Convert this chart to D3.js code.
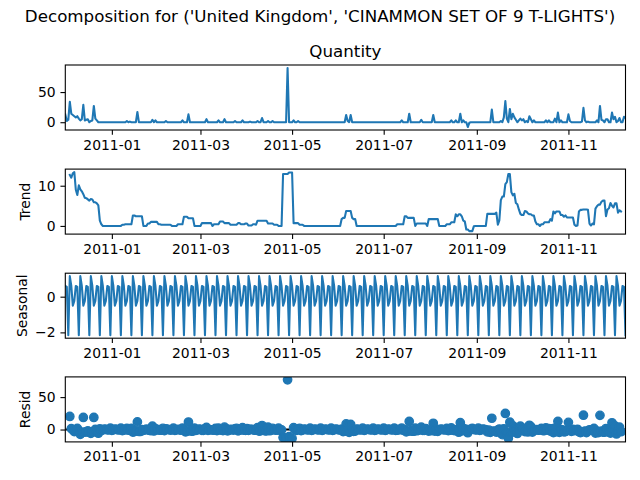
<!DOCTYPE html>
<meta charset="utf-8">
<style>
  body { margin: 0; background: #fff; }
  svg { display: block; font-family: "DejaVu Sans", sans-serif; }
  .tick text { font-size: 13.9px; fill: #000; }
  .tick line { stroke: #000; stroke-width: 1.1; }
</style>
<body>
<svg></svg>
<script src="https://cdn.jsdelivr.net/npm/d3@7"></script>
<script>
  // daily series, 2010-12-01 .. 2011-12-09, one row per week (7 days)
  var startDay = "2010-12-01", endDay = "2011-12-09";

  var observed = [
    [13,2,4,34,14,12,10],[8,10,6,3,5,29,3],[4,5,0,2,3,27,6],[3,0,0,0,0,0,0],
    [0,0,0,0,0,0,0],[0,0,0,0,0,0,2],[0,1,0,0,0,0,17],[0,0,0,0,0,0,0],
    [0,0,4,0,3,0,0],[0,0,0,0,2,0,0],[0,0,0,0,0,0,0],[0,3,0,0,0,13,0],
    [0,0,0,0,0,0,0],[0,0,0,5,0,0,0],[0,0,0,0,3,0,0],[0,5,0,0,0,0,0],
    [0,2,0,0,0,0,3],[0,0,0,0,1,0,0],[0,0,2,0,0,7,0],[0,0,2,0,0,2,0],
    [0,0,0,0,0,0,0],[0,90,0,0,0,3,0],[0,2,0,0,0,0,0],[0,0,0,0,0,0,0],
    [0,0,0,0,0,0,0],[0,0,0,0,0,0,0],[0,0,0,0,0,12,2],[0,12,0,0,0,0,0],
    [0,0,0,0,0,0,0],[0,0,0,0,0,0,0],[0,0,0,0,0,0,0],[0,0,0,0,0,0,0],
    [3,0,0,0,0,14,0],[0,0,0,0,0,0,4],[0,0,0,0,0,0,0],[12,0,0,0,0,0,0],
    [0,0,0,0,0,3,0],[0,3,0,0,14,0,3],[0,0,-8,-1,0,0,0],[0,0,0,0,0,0,0],
    [0,0,0,0,21,0,0],[0,0,0,2,0,8,35],[6,0,22,5,14,8,4],[0,3,6,3,5,0,2],
    [0,10,5,0,3,0,0],[0,0,0,0,0,3,0],[3,0,0,0,6,0,16],[0,3,0,0,0,0,13],
    [2,0,0,0,0,0,0],[0,1,24,3,0,1,0],[0,0,0,0,3,0,27],[4,3,0,5,5,0,0],
    [16,5,9,0,2,7,0],[0,9,7]
  ].flat();

  var trend = [
    [null,null,null,12.7,12.0,13.1,13.4],[9.0,7.7,10.1,9.1,8.6,7.9,7.0],
    [6.9,6.6,6.3,6.7,6.6,5.9,5.9],[5.6,5.1,1.3,0.4,0,0,0],
    [0,0,0,0,0,0,0],[0,0,0,0.3,0.3,0.4,0.4],
    [0.4,0.4,0.4,2.6,2.6,2.4,2.4],[2.4,2.4,2.4,0,0,0,0.6],
    [0.6,1.0,1.0,1.0,1.0,1.0,0.4],[0.4,0.3,0.3,0.3,0.3,0.3,0.3],
    [0.3,0,0,0,0,0.4,0.4],[0.4,0.4,2.3,2.3,2.3,1.9,1.9],
    [1.9,1.9,0,0,0,0,0],[0.7,0.7,0.7,0.7,0.7,0.7,0.7],
    [0,0.4,0.4,0.4,0.4,1.1,1.1],[1.1,0.7,0.7,0.7,0.7,0.3,0.3],
    [0.3,0.3,0.3,0.7,0.7,0.4,0.4],[0.4,0.6,0.6,0.1,0.1,0.1,0.4],
    [0.4,0.3,1.3,1.3,1.3,1.3,1.3],[1.3,1.3,0.6,0.6,0.6,0.6,0.3],
    [0.3,0.3,0,0,0,12.9,12.9],[12.9,12.9,13.3,13.3,13.3,0.7,0.7],
    [0.7,0.7,0.3,0.3,0.3,0,0],[0,0,0,0,0,0,0],
    [0,0,0,0,0,0,0],[0,0,0,0,0,0,0],
    [0,0,1.7,2.0,2.0,3.7,3.7],[3.7,3.7,2.0,1.7,1.7,0,0],
    [0,0,0,0,0,0,0],[0,0,0,0,0,0,0],
    [0,0,0,0,0,0,0],[0,0,0,0,0.4,0.4,0.4],
    [0.4,0.4,2.4,2.4,2.0,2.0,2.0],[2.0,2.0,0,0.6,0.6,0.6,0.6],
    [0.6,0.6,0.6,0,1.7,1.7,1.7],[1.7,1.7,1.7,1.7,0,0,0],
    [0,0,0.4,0.4,0.4,0.9,0.9],[0.9,2.9,2.4,2.9,2.9,2.4,1.3],
    [1.1,-0.9,-0.9,-1.3,-1.3,-1.3,-0.1],[0,0,0,0,0,0,0],
    [0,3.0,3.0,3.0,3.0,3.0,3.0],[3.3,0.3,1.4,6.4,7.3,7.3,10.4],
    [10.9,12.9,12.9,8.4,7.6,8.0,5.7],[5.4,4.1,3.0,2.7,2.7,3.7,3.6],
    [3.1,2.9,2.9,2.6,2.6,1.1,0.4],[0.4,0,0.4,0.4,0.9,0.9,0.9],
    [0.9,1.7,1.3,3.6,3.1,3.6,3.6],[3.6,2.7,2.7,2.3,2.6,2.1,2.1],
    [2.1,2.1,2.1,0.3,0,0.1,3.6],[4.0,4.0,4.1,4.1,4.1,4.0,0.6],
    [0.1,0.6,0.4,4.3,4.9,5.3,5.3],[6.0,6.3,6.3,2.4,4.1,4.4,5.7],
    [5.0,4.6,5.6,5.6,3.3,3.9,3.6],[null,null,null]
  ].flat();

  var seasonal = [
    [0.6,0.55,-2.16,1.15,0.6,-0.5,-0.24],[0.6,0.55,-2.16,1.15,0.6,-0.5,-0.24],
    [0.6,0.55,-2.16,1.15,0.6,-0.5,-0.24],[0.6,0.55,-2.16,1.15,0.6,-0.5,-0.24],
    [0.6,0.55,-2.16,1.15,0.6,-0.5,-0.24],[0.6,0.55,-2.16,1.15,0.6,-0.5,-0.24],
    [0.6,0.55,-2.16,1.15,0.6,-0.5,-0.24],[0.6,0.55,-2.16,1.15,0.6,-0.5,-0.24],
    [0.6,0.55,-2.16,1.15,0.6,-0.5,-0.24],[0.6,0.55,-2.16,1.15,0.6,-0.5,-0.24],
    [0.6,0.55,-2.16,1.15,0.6,-0.5,-0.24],[0.6,0.55,-2.16,1.15,0.6,-0.5,-0.24],
    [0.6,0.55,-2.16,1.15,0.6,-0.5,-0.24],[0.6,0.55,-2.16,1.15,0.6,-0.5,-0.24],
    [0.6,0.55,-2.16,1.15,0.6,-0.5,-0.24],[0.6,0.55,-2.16,1.15,0.6,-0.5,-0.24],
    [0.6,0.55,-2.16,1.15,0.6,-0.5,-0.24],[0.6,0.55,-2.16,1.15,0.6,-0.5,-0.24],
    [0.6,0.55,-2.16,1.15,0.6,-0.5,-0.24],[0.6,0.55,-2.16,1.15,0.6,-0.5,-0.24],
    [0.6,0.55,-2.16,1.15,0.6,-0.5,-0.24],[0.6,0.55,-2.16,1.15,0.6,-0.5,-0.24],
    [0.6,0.55,-2.16,1.15,0.6,-0.5,-0.24],[0.6,0.55,-2.16,1.15,0.6,-0.5,-0.24],
    [0.6,0.55,-2.16,1.15,0.6,-0.5,-0.24],[0.6,0.55,-2.16,1.15,0.6,-0.5,-0.24],
    [0.6,0.55,-2.16,1.15,0.6,-0.5,-0.24],[0.6,0.55,-2.16,1.15,0.6,-0.5,-0.24],
    [0.6,0.55,-2.16,1.15,0.6,-0.5,-0.24],[0.6,0.55,-2.16,1.15,0.6,-0.5,-0.24],
    [0.6,0.55,-2.16,1.15,0.6,-0.5,-0.24],[0.6,0.55,-2.16,1.15,0.6,-0.5,-0.24],
    [0.6,0.55,-2.16,1.15,0.6,-0.5,-0.24],[0.6,0.55,-2.16,1.15,0.6,-0.5,-0.24],
    [0.6,0.55,-2.16,1.15,0.6,-0.5,-0.24],[0.6,0.55,-2.16,1.15,0.6,-0.5,-0.24],
    [0.6,0.55,-2.16,1.15,0.6,-0.5,-0.24],[0.6,0.55,-2.16,1.15,0.6,-0.5,-0.24],
    [0.6,0.55,-2.16,1.15,0.6,-0.5,-0.24],[0.6,0.55,-2.16,1.15,0.6,-0.5,-0.24],
    [0.6,0.55,-2.16,1.15,0.6,-0.5,-0.24],[0.6,0.55,-2.16,1.15,0.6,-0.5,-0.24],
    [0.6,0.55,-2.16,1.15,0.6,-0.5,-0.24],[0.6,0.55,-2.16,1.15,0.6,-0.5,-0.24],
    [0.6,0.55,-2.16,1.15,0.6,-0.5,-0.24],[0.6,0.55,-2.16,1.15,0.6,-0.5,-0.24],
    [0.6,0.55,-2.16,1.15,0.6,-0.5,-0.24],[0.6,0.55,-2.16,1.15,0.6,-0.5,-0.24],
    [0.6,0.55,-2.16,1.15,0.6,-0.5,-0.24],[0.6,0.55,-2.16,1.15,0.6,-0.5,-0.24],
    [0.6,0.55,-2.16,1.15,0.6,-0.5,-0.24],[0.6,0.55,-2.16,1.15,0.6,-0.5,-0.24],
    [0.6,0.55,-2.16,1.15,0.6,-0.5,-0.24],[0.6,0.55,-2.16]
  ].flat();

  var resid = [
    [null,null,null,20.2,1.4,-0.6,-3.2],[-1.6,1.8,-1.9,-7.3,-4.2,18.6,-3.8],
    [-3.5,-2.2,-4.1,-5.9,-4.2,18.6,0.3],[-3.2,-5.7,0.9,-1.6,-0.6,0.5,0.2],
    [-0.6,-0.6,2.2,-1.2,-0.6,0.5,0.2],[-0.6,-0.6,2.2,-1.5,-0.9,0.1,1.8],
    [-1.0,0.1,1.8,-3.8,-3.2,-1.9,11.8],[-3.0,-3.0,-0.2,-1.2,-0.6,0.5,-0.4],
    [-1.2,-1.6,5.2,-2.2,1.4,-0.5,-0.2],[-1.0,-0.9,1.9,-1.5,1.1,0.2,-0.1],
    [-0.9,-0.6,2.2,-1.2,-0.6,0.1,-0.2],[-1.0,2.1,-0.1,-3.5,-2.9,11.6,-1.7],
    [-2.5,-2.5,2.2,-1.2,-0.6,0.5,0.2],[-1.3,-1.3,1.5,3.2,-1.3,-0.2,-0.5],
    [-0.6,-1.0,1.8,-1.6,2.0,-0.6,-0.9],[-1.7,3.8,1.5,-1.9,-1.3,0.2,-0.1],
    [-0.9,1.2,1.9,-1.9,-1.3,0.1,2.8],[-1.0,-1.2,1.6,-1.3,0.3,0.4,-0.2],
    [-1.0,-0.9,2.9,-2.5,-1.9,6.2,-1.1],[-1.9,-1.9,3.6,-1.8,-1.2,1.9,-0.1],
    [-0.9,-0.9,2.2,-1.2,-0.6,-12.4,-12.7],[-13.5,76.6,-11.1,-14.5,-13.9,2.8,-0.5],
    [-1.3,0.8,1.9,-1.5,-0.9,0.5,0.2],[-0.6,-0.6,2.2,-1.2,-0.6,0.5,0.2],
    [-0.6,-0.6,2.2,-1.2,-0.6,0.5,0.2],[-0.6,-0.6,2.2,-1.2,-0.6,0.5,0.2],
    [-0.6,-0.6,0.5,-3.2,-2.6,8.8,-1.5],[-4.3,7.8,0.2,-2.9,-2.3,0.5,0.2],
    [-0.6,-0.6,2.2,-1.2,-0.6,0.5,0.2],[-0.6,-0.6,2.2,-1.2,-0.6,0.5,0.2],
    [-0.6,-0.6,2.2,-1.2,-0.6,0.5,0.2],[-0.6,-0.6,2.2,-1.2,-1.0,0.1,-0.2],
    [2.0,-1.0,-0.2,-3.6,-2.6,12.5,-1.8],[-2.6,-2.6,2.2,-1.8,-1.2,-0.1,3.6],
    [-1.2,-1.2,1.6,-1.2,-2.3,-1.2,-1.5],[9.7,-2.3,0.5,-2.9,-0.6,0.5,0.2],
    [-0.6,-0.6,1.8,-1.6,-1.0,2.6,-0.7],[-1.5,-0.5,-0.2,-4.1,10.5,-1.9,1.9],
    [-1.7,0.4,-4.9,-0.9,0.7,1.8,0.3],[-0.6,-0.6,2.2,-1.2,-0.6,0.5,0.2],
    [-0.6,-3.6,-0.8,-4.2,17.4,-2.5,-2.8],[-3.9,-0.9,0.8,-5.6,-7.9,1.2,24.8],
    [-5.5,-13.5,11.3,-4.6,5.8,0.5,-1.5],[-6.0,-1.7,5.2,-0.9,1.7,-3.2,-1.4],
    [-3.7,6.6,4.3,-3.8,-0.2,-0.6,-0.2],[-1.0,-0.6,1.8,-1.6,-1.5,2.6,-0.7],
    [1.5,-2.3,0.9,-4.8,2.3,-3.1,12.6],[-4.2,-0.3,-0.5,-3.5,-3.2,-1.6,11.1],
    [-0.7,-2.7,0.1,-1.5,-0.6,0.4,-3.4],[-4.6,-3.6,22.1,-2.3,-4.7,-2.5,-0.4],
    [-0.7,-1.2,1.8,-5.5,-2.5,-4.8,21.9],[-2.6,-3.9,-4.1,1.5,0.3,-3.9,-5.5],
    [10.4,-0.2,5.6,-6.8,-1.9,3.6,-3.4],[null,null,null]
  ].flat();

  var xTickLabels = ["2011-01", "2011-03", "2011-05", "2011-07", "2011-09", "2011-11"];
  var yTicksObserved = [0, 50], yTicksTrend = [0, 10], yTicksSeasonal = [-2, 0], yTicksResid = [0, 50];

  var suptitle = "Decomposition for ('United Kingdom', 'CINAMMON SET OF 9 T-LIGHTS')";

  // figure setup
  var width = 640, height = 480;
  var svg = d3.select("svg").attr("width", width).attr("height", height);
  var blue = "#1f77b4";
  var left = 65.3, right = 625.5, panelH = 65;

  var parseDay = d3.timeParse("%Y-%m-%d"), parseMonth = d3.timeParse("%Y-%m");
  var dates = d3.timeDay.range(parseDay(startDay), d3.timeDay.offset(parseDay(endDay), 1));

  var x = d3.scaleTime()
    .domain([dates[0], dates[dates.length - 1]])
    .range([left, right]);

  // matplotlib style 5% margins on y
  function paddedDomain(values)
  {
    var ext = d3.extent(values.filter(function(v){ return v != null; }));
    var pad = (ext[1] - ext[0]) * 0.05;
    return [ext[0] - pad, ext[1] + pad];
  }

  var panels = [
    {name: "observed", values: observed, top: 65,    ticks: yTicksObserved, label: null},
    {name: "trend",    values: trend,    top: 169.1, ticks: yTicksTrend,    label: "Trend",    labelX: 25},
    {name: "seasonal", values: seasonal, top: 273.2, ticks: yTicksSeasonal, label: "Seasonal", labelX: 22},
    {name: "resid",    values: resid,    top: 376.9, ticks: yTicksResid,    label: "Resid",    labelX: 25, dots: true}
  ];

  var tick = 4.86;

  panels.forEach(function(p)
  {
    var g = svg.append("g").attr("transform", "translate(0," + p.top + ")");
    var y = d3.scaleLinear().domain(paddedDomain(p.values)).range([panelH, 0]);

    g.append("clipPath").attr("id", "clip-" + p.name)
      .append("rect").attr("x", left).attr("y", 0)
      .attr("width", right - left).attr("height", panelH);

    var plot = g.append("g").attr("clip-path", "url(#clip-" + p.name + ")");

    if(p.dots)
    {
      // zero reference line sits under the markers
      plot.append("line")
        .attr("x1", left).attr("x2", right)
        .attr("y1", y(0)).attr("y2", y(0))
        .attr("stroke", "#000").attr("stroke-width", 2.08);

      plot.selectAll("circle")
        .data(p.values.map(function(v, i){ return [dates[i], v]; }).filter(function(d){ return d[1] != null; }))
        .enter()
        .append("circle")
        .attr("cx", function(d){ return x(d[0]); })
        .attr("cy", function(d){ return y(d[1]); })
        .attr("r", 4.17)
        .attr("fill", blue)
        .attr("stroke", blue)
        .attr("stroke-width", 1.4);
    }
    else
    {
      var line = d3.line()
        .defined(function(v){ return v != null; })
        .x(function(v, i){ return x(dates[i]); })
        .y(function(v){ return y(v); });

      plot.append("path")
        .datum(p.values)
        .attr("d", line)
        .attr("fill", "none")
        .attr("stroke", blue)
        .attr("stroke-width", 2.08)
        .attr("stroke-linejoin", "round")
        .attr("stroke-linecap", "square");
    }

    // axes
    var xAxis = g.append("g")
      .attr("transform", "translate(0," + panelH + ")")
      .call(d3.axisBottom(x)
        .tickValues(xTickLabels.map(parseMonth))
        .tickFormat(d3.timeFormat("%Y-%m"))
        .tickSize(tick).tickPadding(tick).tickSizeOuter(0));
    xAxis.select(".domain").remove();

    var yAxis = g.append("g")
      .attr("transform", "translate(" + left + ",0)")
      .call(d3.axisLeft(y)
        .tickValues(p.ticks)
        .tickFormat(d3.format("d"))
        .tickSize(tick).tickPadding(tick).tickSizeOuter(0));
    yAxis.select(".domain").remove();

    // spines
    g.append("rect")
      .attr("x", left).attr("y", 0)
      .attr("width", right - left).attr("height", panelH)
      .attr("fill", "none").attr("stroke", "#000").attr("stroke-width", 1.1);

    if(p.label)
    {
      g.append("text")
        .attr("transform", "translate(" + p.labelX + "," + (panelH / 2) + ") rotate(-90)")
        .attr("text-anchor", "middle")
        .attr("dominant-baseline", "central")
        .attr("font-size", 13.9)
        .text(p.label);
    }
  });

  svg.selectAll(".tick text")
    .attr("font-family", null)
    .style("font-family", "'DejaVu Sans', sans-serif");

  // titles
  svg.append("text")
    .attr("x", (left + right) / 2).attr("y", 57)
    .attr("text-anchor", "middle")
    .attr("font-size", 16.7)
    .text("Quantity");

  svg.append("text")
    .attr("x", width / 2).attr("y", 22)
    .attr("text-anchor", "middle")
    .attr("font-size", 16.7)
    .text(suptitle);
</script>
</body>
</html>
